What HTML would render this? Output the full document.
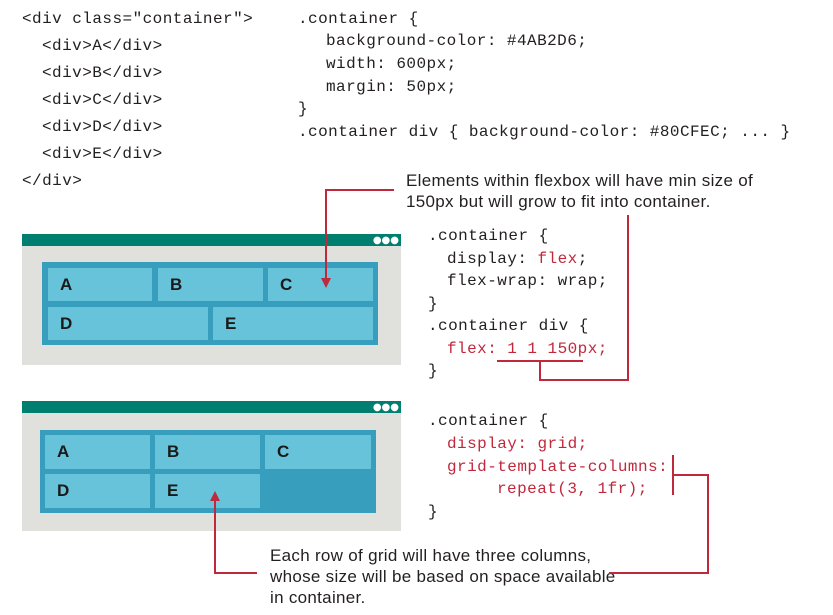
<!DOCTYPE html>
<html><head><meta charset="utf-8"><style>
body{margin:0;width:833px;height:615px;background:#fff;position:relative;overflow:hidden;font-family:"Liberation Mono",monospace;color:#231f20}
.c{position:absolute;font-size:16px;white-space:pre;line-height:18px;letter-spacing:0.45px}
.r{color:#c0283c}
.s{position:absolute;font-family:"Liberation Sans",sans-serif;font-size:17px;line-height:21px;color:#231f20;white-space:pre;letter-spacing:0.3px}
.ab{position:absolute;background:#c0283c}
.win{position:absolute;background:#e0e0dc}
.bar{position:absolute;left:0;top:0;right:0;height:12px;background:#007e6f}
.dots{position:absolute;right:2px;top:2px;font-size:10px;color:#fff;letter-spacing:0px;line-height:9px;font-family:"DejaVu Sans",sans-serif}
.ct{position:absolute;background:#379fbd}
.bx{position:absolute;background:#67c3d9;font-family:"Liberation Sans",sans-serif;font-weight:bold;font-size:17px;line-height:34px;padding-left:12px;box-sizing:border-box;color:#1a1a1a}
</style></head><body>
<div class="c" style="left:22px;top:10px">&lt;div class="container"&gt;</div>
<div class="c" style="left:42px;top:37px">&lt;div&gt;A&lt;/div&gt;</div>
<div class="c" style="left:42px;top:64px">&lt;div&gt;B&lt;/div&gt;</div>
<div class="c" style="left:42px;top:91px">&lt;div&gt;C&lt;/div&gt;</div>
<div class="c" style="left:42px;top:118px">&lt;div&gt;D&lt;/div&gt;</div>
<div class="c" style="left:42px;top:145px">&lt;div&gt;E&lt;/div&gt;</div>
<div class="c" style="left:22px;top:172px">&lt;/div&gt;</div>

<div class="c" style="left:298px;top:10px">.container {</div>
<div class="c" style="left:326px;top:32px">background-color: #4AB2D6;</div>
<div class="c" style="left:326px;top:55px">width: 600px;</div>
<div class="c" style="left:326px;top:78px">margin: 50px;</div>
<div class="c" style="left:298px;top:100px">}</div>
<div class="c" style="left:298px;top:123px">.container div { background-color: #80CFEC; ... }</div>

<div class="s" style="left:406px;top:170px">Elements within flexbox will have min size of
150px but will grow to fit into container.</div>

<div class="c" style="left:428px;top:227px">.container {</div>
<div class="c" style="left:447px;top:250px">display: <span class="r">flex</span>;</div>
<div class="c" style="left:447px;top:272px">flex-wrap: wrap;</div>
<div class="c" style="left:428px;top:295px">}</div>
<div class="c" style="left:428px;top:317px">.container div {</div>
<div class="c r" style="left:447px;top:340px">flex: 1 1 150px;</div>
<div class="c" style="left:428px;top:362px">}</div>

<div class="c" style="left:428px;top:412px">.container {</div>
<div class="c r" style="left:447px;top:435px">display: grid;</div>
<div class="c r" style="left:447px;top:458px">grid-template-columns:</div>
<div class="c r" style="left:497px;top:480px">repeat(3, 1fr);</div>
<div class="c" style="left:428px;top:503px">}</div>

<div class="s" style="left:270px;top:545px">Each row of grid will have three columns,
whose size will be based on space available
in container.</div>

<div class="win" style="left:22px;top:234px;width:379px;height:131px"><div class="bar"><span class="dots">●●●</span></div></div>
<div class="ct" style="left:42px;top:262px;width:336px;height:83px"></div>
<div class="bx" style="left:48px;top:268px;width:104px;height:33px">A</div>
<div class="bx" style="left:158px;top:268px;width:105px;height:33px">B</div>
<div class="bx" style="left:268px;top:268px;width:105px;height:33px">C</div>
<div class="bx" style="left:48px;top:307px;width:160px;height:33px">D</div>
<div class="bx" style="left:213px;top:307px;width:160px;height:33px">E</div>

<div class="win" style="left:22px;top:401px;width:379px;height:130px"><div class="bar"><span class="dots">●●●</span></div></div>
<div class="ct" style="left:40px;top:430px;width:336px;height:83px"></div>
<div class="bx" style="left:45px;top:435px;width:105px;height:34px">A</div>
<div class="bx" style="left:155px;top:435px;width:105px;height:34px">B</div>
<div class="bx" style="left:265px;top:435px;width:106px;height:34px">C</div>
<div class="bx" style="left:45px;top:474px;width:105px;height:34px">D</div>
<div class="bx" style="left:155px;top:474px;width:105px;height:34px">E</div>

<div class="ab" style="left:326px;top:189px;width:68px;height:2px"></div>
<div class="ab" style="left:325px;top:189px;width:2px;height:90px"></div>
<svg style="position:absolute;left:0;top:0" width="833" height="615">
<polygon points="321,278 331,278 326,288" fill="#c0283c"/>
<polygon points="210,501 220,501 215,491" fill="#c0283c"/>
</svg>
<div class="ab" style="left:627px;top:215px;width:2px;height:166px"></div>
<div class="ab" style="left:540px;top:379px;width:89px;height:2px"></div>
<div class="ab" style="left:539px;top:361px;width:2px;height:20px"></div>
<div class="ab" style="left:497px;top:360px;width:86px;height:2px"></div>
<div class="ab" style="left:214px;top:500px;width:2px;height:74px"></div>
<div class="ab" style="left:214px;top:572px;width:43px;height:2px"></div>
<div class="ab" style="left:672px;top:455px;width:2px;height:40px"></div>
<div class="ab" style="left:672px;top:474px;width:37px;height:2px"></div>
<div class="ab" style="left:707px;top:474px;width:2px;height:100px"></div>
<div class="ab" style="left:609px;top:572px;width:100px;height:2px"></div>
</body></html>
